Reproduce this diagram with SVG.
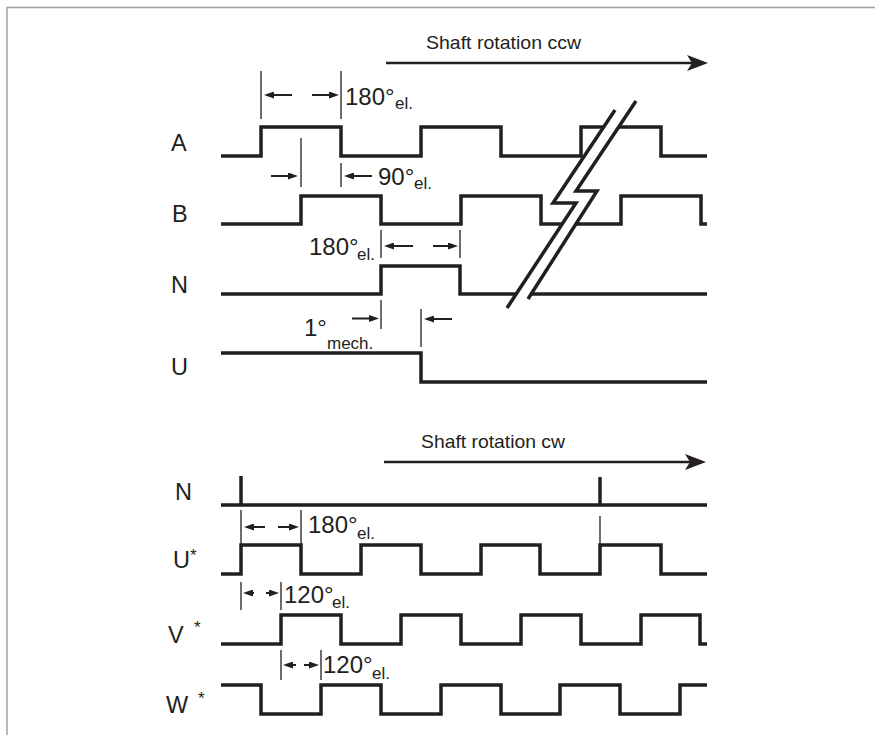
<svg xmlns="http://www.w3.org/2000/svg" width="875" height="735" viewBox="0 0 875 735">
<style>
.sig{fill:none;stroke:#231f20;stroke-width:3.5;stroke-linejoin:miter;stroke-linecap:butt}
.ext{fill:none;stroke:#231f20;stroke-width:1.3}
.dim{fill:none;stroke:#231f20;stroke-width:2}
.lbl{font-family:"Liberation Sans",Arial,sans-serif;font-size:23.5px;fill:#231f20}
.num{font-family:"Liberation Sans",Arial,sans-serif;font-size:24px;fill:#231f20}
.sub{font-family:"Liberation Sans",Arial,sans-serif;font-size:17px;fill:#231f20}
.ast{font-family:"Liberation Sans",Arial,sans-serif;font-size:17px;fill:#231f20}
.cap{font-family:"Liberation Sans",Arial,sans-serif;font-size:18.5px;fill:#231f20}
.frame{fill:none;stroke:#a0a0a0;stroke-width:1.5}
</style>
<defs>
<marker id="ah" markerUnits="userSpaceOnUse" markerWidth="10" markerHeight="7" refX="6" refY="3.5" orient="auto">
<path d="M0,0 L10,3.5 L0,7 z" fill="#231f20"/>
</marker>
</defs>
<rect x="0" y="0" width="875" height="735" fill="#fff"/>
<path class="frame" d="M7,735 V7.5 H875"/>

<g id="connectors">
<line x1="386" y1="63" x2="692" y2="63" stroke="#231f20" stroke-width="2.5"/>
<path d="M708,63 L687,55 L692,63 L687,71 z" fill="#231f20"/>
<line x1="384" y1="462" x2="690" y2="462" stroke="#231f20" stroke-width="2.5"/>
<path d="M706,462 L685,454 L690,462 L685,470 z" fill="#231f20"/>

<path class="ext" d="M261,71 V119 M341,71 V119 M301,138 V187 M341,163 V187 M381,230 V258 M460,230 V258 M381,300 V329 M421,309 V347 M241,510 V545 M301,510 V545 M600,516 V545 M241,582 V610 M281,582 V610 M281,650 V680 M321,650 V680"/>

<line class="dim" x1="292" y1="95" x2="268" y2="95" marker-end="url(#ah)"/>
<line class="dim" x1="312" y1="95" x2="335" y2="95" marker-end="url(#ah)"/>
<line class="dim" x1="271" y1="176" x2="294" y2="176" marker-end="url(#ah)"/>
<line class="dim" x1="372" y1="176" x2="348" y2="176" marker-end="url(#ah)"/>
<line class="dim" x1="413" y1="246" x2="388" y2="246" marker-end="url(#ah)"/>
<line class="dim" x1="433" y1="246" x2="454" y2="246" marker-end="url(#ah)"/>
<line class="dim" x1="352" y1="318.5" x2="375" y2="318.5" marker-end="url(#ah)"/>
<line class="dim" x1="452" y1="319" x2="428" y2="319" marker-end="url(#ah)"/>
<line class="dim" x1="265" y1="527" x2="248" y2="527" marker-end="url(#ah)"/>
<line class="dim" x1="278" y1="527" x2="295" y2="527" marker-end="url(#ah)"/>
<line class="dim" x1="254" y1="593" x2="247" y2="593" marker-end="url(#ah)"/>
<line class="dim" x1="266" y1="593" x2="275" y2="593" marker-end="url(#ah)"/>
<line class="dim" x1="296" y1="665" x2="287" y2="665" marker-end="url(#ah)"/>
<line class="dim" x1="304" y1="665" x2="315" y2="665" marker-end="url(#ah)"/>
</g>

<g id="captions">
<text class="cap" x="426" y="49" textLength="155" lengthAdjust="spacingAndGlyphs">Shaft rotation ccw</text>
<text class="cap" x="421" y="448" textLength="144" lengthAdjust="spacingAndGlyphs">Shaft rotation cw</text>
<text class="num" x="345" y="105">180°</text><text class="sub" x="395" y="109">el.</text>
<text class="num" x="378" y="185">90°</text><text class="sub" x="414" y="189">el.</text>
<text class="num" x="309" y="255">180°</text><text class="sub" x="357" y="260">el.</text>
<text class="num" x="304" y="336">1°</text><text class="sub" x="327" y="349">mech.</text>
<text class="num" x="308" y="533">180°</text><text class="sub" x="357" y="539">el.</text>
<text class="num" x="284" y="603">120°</text><text class="sub" x="332" y="608">el.</text>
<text class="num" x="323" y="673">120°</text><text class="sub" x="372" y="679">el.</text>
</g>

<g id="sig-A"><text class="lbl" x="171" y="151">A</text>
<path class="sig" d="M221,156 H261 V127 H341 V156 H421 V127 H501 V156 H581 V127 H661 V156 H707"/></g>
<g id="sig-B"><text class="lbl" x="172" y="222">B</text>
<path class="sig" d="M221,224 H301 V196 H381 V224 H461 V196 H541 V224 H621 V196 H701 V224 H707"/></g>
<g id="sig-N"><text class="lbl" x="171" y="293">N</text>
<path class="sig" d="M221,294 H381 V266 H460 V294 H707"/></g>
<g id="sig-U"><text class="lbl" x="171" y="375">U</text>
<path class="sig" d="M221,353 H421 V382 H707"/></g>

<g id="break">
<path d="M615,110 L553,203 L576,203 L507,308 L528,299 L597,191 L576,191 L636,101 z" fill="#fff"/>
<path class="sig" stroke-width="3" d="M615,110 L553,203 L576,203 L507,308"/>
<path class="sig" stroke-width="3" d="M636,101 L576,191 L597,191 L528,299"/>
</g>

<g id="sig-N2"><text class="lbl" x="175" y="500">N</text>
<path class="sig" d="M221,505 H707 M241,476 V505 M600,477 V505"/></g>
<g id="sig-Ustar"><text class="lbl" x="173" y="568">U</text><text class="ast" x="190" y="561">*</text>
<path class="sig" d="M221,574 H241 V545 H301 V574 H361 V545 H421 V574 H481 V545 H540 V574 H600 V545 H661 V574 H707"/></g>
<g id="sig-Vstar"><text class="lbl" x="168" y="643">V</text><text class="ast" x="194" y="633">*</text>
<path class="sig" d="M221,644 H281 V615 H341 V644 H401 V615 H461 V644 H521 V615 H581 V644 H641 V615 H700 V644 H707"/></g>
<g id="sig-Wstar"><text class="lbl" x="166" y="713">W</text><text class="ast" x="198" y="704">*</text>
<path class="sig" d="M221,685 H261 V714 H321 V685 H381 V714 H441 V685 H501 V714 H560 V685 H620 V714 H680 V685 H707"/></g>
</svg>
